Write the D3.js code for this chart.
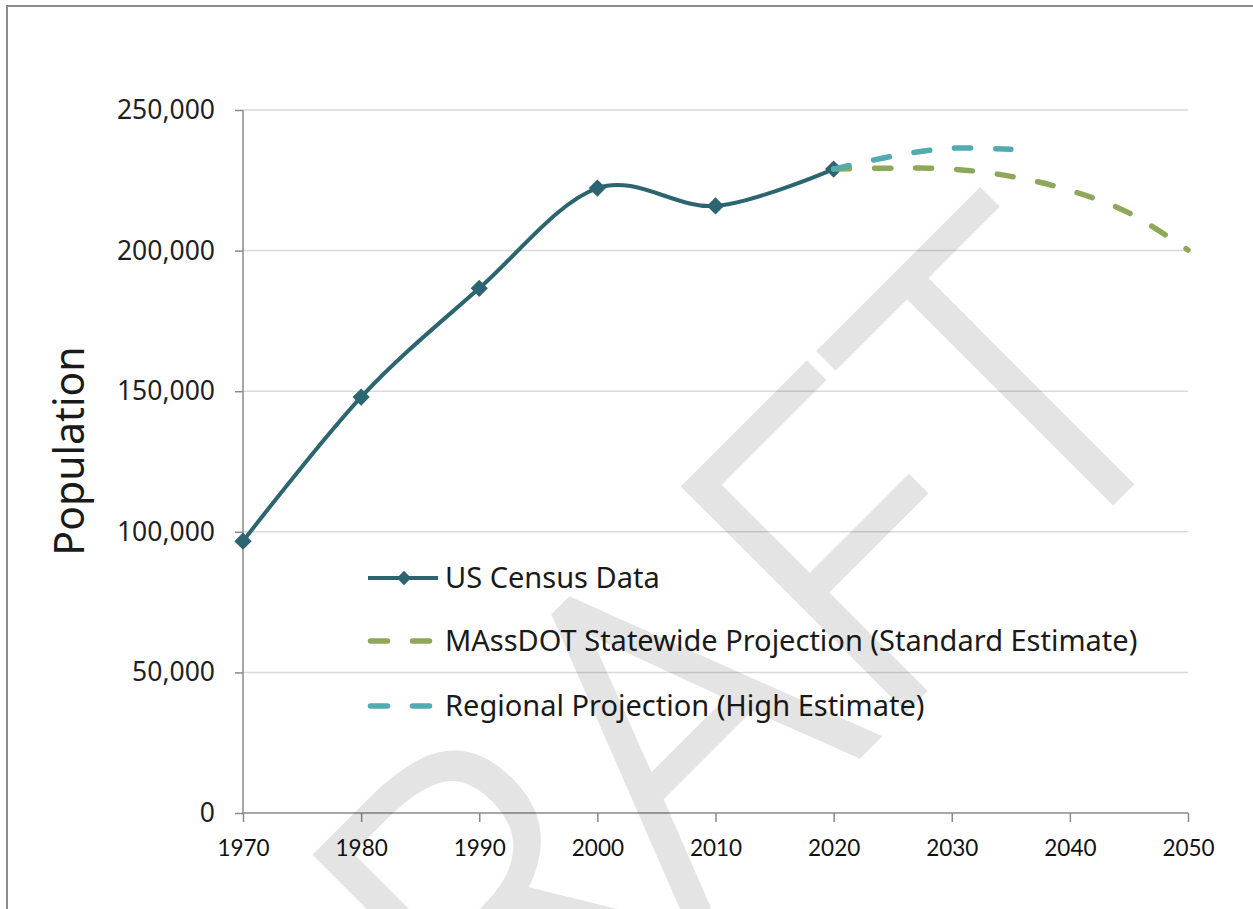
<!DOCTYPE html>
<html lang="en">
<head>
  <meta charset="UTF-8">
  <title>Population: Census and Projections</title>
  <style>
  body {
    margin: 0;
    background: #fff;
  }
  svg {
    display: block;
  }
  .axis path {
    display: none;
  }
  .axis line {
    stroke: #8a8a8a;
    stroke-width: 1.5;
  }
  .y.axis text {
    font-family: 'Noto Sans', sans-serif;
    font-size: 26.5px;
    fill: #1f1f1f;
  }
  .x.axis text {
    font-family: Lato, 'Noto Sans', sans-serif;
    font-size: 22.5px;
    fill: #111;
  }
  .grid line {
    stroke: #d9d9d9;
    stroke-width: 1.5;
  }
  .legend text {
    font-family: 'Noto Sans', sans-serif;
    font-size: 29px;
    fill: #1a1a1a;
  }
  </style>
</head>
<body>
  <script src="https://d3js.org/d3.v7.min.js"></script>
  <script>

  // data
  var censusYears = [1970, 1980, 1990, 2000, 2010, 2020];
  var census = [96656, 147925, 186605, 222230, 215888, 228996];

  var statewideYears = [2020, 2025, 2030, 2035, 2040, 2045, 2050];
  var statewide = [228996, 229300, 229000, 226400, 221400, 213400, 200200];

  var regionalYears = [2020, 2025, 2030, 2035];
  var regional = [228996, 233600, 236400, 236000];

  var xTicks = [1970, 1980, 1990, 2000, 2010, 2020, 2030, 2040, 2050];
  var yTicks = [0, 50000, 100000, 150000, 200000, 250000];

  var legendLabels = [
    'US Census Data',
    'MAssDOT Statewide Projection (Standard Estimate)',
    'Regional Projection (High Estimate)'
  ];

  var width = 1253;
  var height = 909;

  var colors = {
    census: '#2c6570',
    statewide: '#8ea85a',
    regional: '#52abb0'
  };

  var svg = d3.select('body').append('svg')
              .attr('width', width)
              .attr('height', height);

  // page frame
  svg.append('rect')
     .attr('x', 7)
     .attr('y', 6)
     .attr('width', width + 20)
     .attr('height', height + 20)
     .attr('fill', 'none')
     .attr('stroke', '#8c8c8c')
     .attr('stroke-width', 2);

  var x = d3.scaleLinear().domain([1970, 2050]).range([243, 1188]);
  var y = d3.scaleLinear().domain([0, 250000]).range([813, 110]);

  // gridlines
  svg.append('g')
     .attr('class', 'grid')
     .selectAll('line')
     .data(yTicks.slice(1))
     .enter()
     .append('line')
     .attr('x1', x(1970))
     .attr('x2', x(2050))
     .attr('y1', function (d) { return y(d); })
     .attr('y2', function (d) { return y(d); });

  // axes
  svg.append('g')
     .attr('class', 'y axis')
     .attr('transform', 'translate(' + x(1970) + ',0)')
     .call(d3.axisLeft(y).tickValues(yTicks).tickSize(8).tickPadding(20).tickFormat(d3.format(',')));

  svg.append('g')
     .attr('class', 'x axis')
     .attr('transform', 'translate(0,' + y(0) + ')')
     .call(d3.axisBottom(x).tickValues(xTicks).tickSize(9).tickPadding(18).tickFormat(d3.format('d')));

  svg.append('line')
     .attr('x1', x(1970)).attr('x2', x(1970))
     .attr('y1', y(250000)).attr('y2', y(0))
     .attr('stroke', '#8a8a8a').attr('stroke-width', 1.5);

  svg.append('line')
     .attr('x1', x(1970)).attr('x2', x(2050))
     .attr('y1', y(0)).attr('y2', y(0))
     .attr('stroke', '#8a8a8a').attr('stroke-width', 1.5);

  svg.append('text')
     .attr('transform', 'translate(84,451) rotate(-90)')
     .attr('text-anchor', 'middle')
     .style('font-family', "'Noto Sans', sans-serif")
     .style('font-size', '41px')
     .style('fill', '#1a1a1a')
     .text('Population');

  var line = d3.line()
               .x(function (d) { return x(d[0]); })
               .y(function (d) { return y(d[1]); })
               .curve(d3.curveCardinal.tension(0));

  function pairs(xs, ys) {
    return xs.map(function (d, i) { return [d, ys[i]]; });
  }

  var diamond = d3.symbol().type(d3.symbolDiamond2).size(190);

  svg.append('path')
     .datum(pairs(censusYears, census))
     .attr('d', line)
     .attr('fill', 'none')
     .attr('stroke', colors.census)
     .attr('stroke-width', 4);

  svg.append('g')
     .selectAll('path')
     .data(pairs(censusYears, census))
     .enter()
     .append('path')
     .attr('d', diamond)
     .attr('transform', function (d) { return 'translate(' + x(d[0]) + ',' + y(d[1]) + ')'; })
     .attr('fill', colors.census);

  svg.append('path')
     .datum(pairs(statewideYears, statewide))
     .attr('d', line)
     .attr('fill', 'none')
     .attr('stroke', colors.statewide)
     .attr('stroke-width', 5.5)
     .attr('stroke-linecap', 'round')
     .attr('stroke-dasharray', '16,25');

  svg.append('path')
     .datum(pairs(regionalYears, regional))
     .attr('d', line)
     .attr('fill', 'none')
     .attr('stroke', colors.regional)
     .attr('stroke-width', 5.5)
     .attr('stroke-linecap', 'round')
     .attr('stroke-dasharray', '16,25');

  // legend
  var legendRows = [
    { label: legendLabels[0], color: colors.census, dashed: false, y: 578 },
    { label: legendLabels[1], color: colors.statewide, dashed: true, y: 641 },
    { label: legendLabels[2], color: colors.regional, dashed: true, y: 706 }
  ];

  var legend = svg.append('g').attr('class', 'legend');

  legendRows.forEach(function (r) {
    if (r.dashed) {
      legend.append('line')
            .attr('x1', 370.5).attr('x2', 429.5)
            .attr('y1', r.y).attr('y2', r.y)
            .attr('stroke', r.color)
            .attr('stroke-width', 5.5)
            .attr('stroke-linecap', 'round')
            .attr('stroke-dasharray', '17,25');
    } else {
      legend.append('line')
            .attr('x1', 368).attr('x2', 438)
            .attr('y1', r.y).attr('y2', r.y)
            .attr('stroke', r.color)
            .attr('stroke-width', 4);
      legend.append('path')
            .attr('d', d3.symbol().type(d3.symbolDiamond2).size(130))
            .attr('transform', 'translate(404,' + r.y + ')')
            .attr('fill', r.color);
    }
    legend.append('text')
          .attr('x', 445)
          .attr('y', r.y + 10)
          .text(r.label);
  });

  // watermark, thickened with a stroke inside a translucent group
  var mark = svg.append('g')
                .attr('opacity', 0.1)
                .append('text')
                .attr('transform', 'translate(1202,411) rotate(-45)')
                .attr('text-anchor', 'end')
                .style('font-family', "'Open Sans', sans-serif")
                .style('font-weight', 300)
                .style('font-size', '436px')
                .style('fill', '#000')
                .style('stroke', '#000')
                .style('stroke-width', 8);
  mark.append('tspan').text('DRAF');
  mark.append('tspan').attr('dx', 14).text('T');
  </script>
</body>
</html>
